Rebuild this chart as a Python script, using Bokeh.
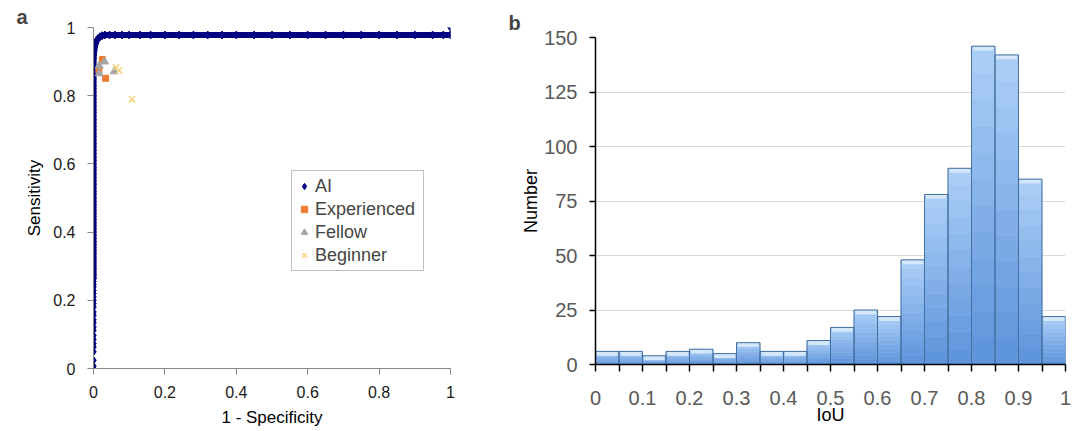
from bokeh.plotting import figure
from bokeh.layouts import row, column
from bokeh.models import FixedTicker
from bokeh.embed import file_html
from bokeh.resources import INLINE

FONT = "Liberation Sans"

# ---------------- Panel a data (ROC) ----------------
# AI operating points: vertical part (1 - specificity = 0)
ai_vertical_tpr = [0.0, 0.007, 0.024, 0.049, 0.063, 0.073, 0.085, 0.097, 0.112, 0.122,
                   0.134, 0.143, 0.156, 0.166, 0.18, 0.19, 0.2, 0.21, 0.22, 0.229,
                   0.239, 0.247, 0.255, 0.265, 0.275, 0.283, 0.292, 0.30, 0.31, 0.318,
                   0.327, 0.336, 0.345, 0.355, 0.364, 0.372, 0.381, 0.39, 0.40, 0.41,
                   0.418, 0.427, 0.436, 0.446, 0.455, 0.464, 0.473, 0.482, 0.49, 0.50,
                   0.51, 0.52, 0.53, 0.54, 0.55, 0.56, 0.57, 0.58, 0.59, 0.60,
                   0.61, 0.62, 0.63, 0.64, 0.65, 0.66, 0.67, 0.68, 0.69, 0.70,
                   0.71, 0.72, 0.73, 0.74, 0.75, 0.76, 0.77, 0.78, 0.79, 0.80,
                   0.81, 0.82, 0.83, 0.84, 0.85, 0.86, 0.87, 0.88, 0.89, 0.90]
ai_vertical_fpr = 0.0
# knee of the curve
ai_knee_fpr = [0.0005, 0.001, 0.002, 0.004, 0.006, 0.009, 0.013, 0.018, 0.024, 0.032]
ai_knee_tpr = [0.91, 0.92, 0.932, 0.944, 0.953, 0.961, 0.968, 0.973, 0.976, 0.978]
# plateau (sensitivity = 0.978)
ai_plateau_fpr = [0.045, 0.06, 0.08, 0.10, 0.13, 0.16, 0.2, 0.24, 0.28, 0.32, 0.36, 0.4,
                  0.45, 0.5, 0.55, 0.6, 0.65, 0.7, 0.75, 0.8, 0.85, 0.9, 0.95, 0.98, 1.0]
ai_plateau_tpr = 0.978
ai_end_fpr = [1.0]
ai_end_tpr = [1.0]

exp_fpr = [0.025, 0.015, 0.034]
exp_tpr = [0.906, 0.875, 0.851]
fel_fpr = [0.031, 0.016, 0.016, 0.058]
fel_tpr = [0.900, 0.888, 0.865, 0.871]
beg_fpr = [0.063, 0.072, 0.108]
beg_tpr = [0.883, 0.874, 0.789]

a_ticks = [0.0, 0.2, 0.4, 0.6, 0.8, 1.0]
a_tick_labels = ["0", "0.2", "0.4", "0.6", "0.8", "1"]

# ---------------- Panel b data (IoU histogram) ----------------
iou_bin_left = [0.0, 0.05, 0.1, 0.15, 0.2, 0.25, 0.3, 0.35, 0.4, 0.45,
                0.5, 0.55, 0.6, 0.65, 0.7, 0.75, 0.8, 0.85, 0.9, 0.95]
iou_bin_width = 0.05
iou_counts = [6, 6, 4, 6, 7, 5, 10, 6, 6, 11, 17, 25, 22, 48, 78, 90, 146, 142, 85, 22]

b_x_ticks = [0.0, 0.1, 0.2, 0.3, 0.4, 0.5, 0.6, 0.7, 0.8, 0.9, 1.0]
b_x_tick_labels = ["0", "0.1", "0.2", "0.3", "0.4", "0.5", "0.6", "0.7", "0.8", "0.9", "1"]
b_x_minor = [0.05, 0.15, 0.25, 0.35, 0.45, 0.55, 0.65, 0.75, 0.85, 0.95]
b_y_ticks = [0, 25, 50, 75, 100, 125, 150]

H = 431

# ================= Panel a =================
pa = figure(width=500, height=H, x_range=(0, 1), y_range=(0, 1),
            output_backend="svg", toolbar_location=None,
            min_border_left=93, min_border_right=50, min_border_top=27, min_border_bottom=63)
pa.outline_line_color = None
pa.grid.visible = False

pa.title.text = "a"
pa.title.align = "left"
pa.title.offset = -77
pa.title.standoff = 0
pa.title.text_font = FONT
pa.title.text_font_size = "20px"
pa.title.text_font_style = "bold"

ai_fpr = [ai_vertical_fpr] * len(ai_vertical_tpr) + ai_knee_fpr + ai_plateau_fpr + ai_end_fpr
ai_tpr = ai_vertical_tpr + ai_knee_tpr + [ai_plateau_tpr] * len(ai_plateau_fpr) + ai_end_tpr

line_x = [x for x, y in zip(ai_fpr, ai_tpr) if 0.26 <= y <= 0.98]
line_y = [y for y in ai_tpr if 0.26 <= y <= 0.98]
pa.line(line_x, line_y, line_color="#000080", line_width=6, line_join="round", line_cap="round")
pa.scatter(ai_fpr, ai_tpr, marker="diamond", size=8, color="#000080", legend_label="AI")
pa.scatter(exp_fpr, exp_tpr, marker="square", size=6, color="#ED7D31", legend_label="Experienced")
pa.scatter(fel_fpr, fel_tpr, marker="triangle", size=8, color="#A5A5A5", legend_label="Fellow")
pa.scatter(beg_fpr, beg_tpr, marker="x", size=9, line_color="#F5D67A", line_width=1.5,
           legend_label="Beginner")

for ax in (pa.xaxis[0], pa.yaxis[0]):
    ax.ticker = FixedTicker(ticks=a_ticks)
    ax.major_label_overrides = dict(zip(a_ticks, a_tick_labels))
    ax.axis_line_color = "#868686"
    ax.major_tick_line_color = "#868686"
    ax.major_tick_in = 0
    ax.major_tick_out = 6
    ax.minor_tick_line_color = None
    ax.major_label_text_font = FONT
    ax.major_label_text_font_size = "16px"
    ax.major_label_text_color = "#1a1a1a"
    ax.axis_label_text_font = FONT
    ax.axis_label_text_font_size = "17px"
    ax.axis_label_text_font_style = "normal"
    ax.axis_label_text_color = "#000000"
pa.xaxis.axis_label = "1 - Specificity"
pa.yaxis.axis_label = "Sensitivity"
pa.xaxis.major_label_standoff = 11
pa.xaxis.axis_label_standoff = 7
pa.yaxis.major_label_standoff = 12
pa.yaxis.axis_label_standoff = 6

lg = pa.legend[0]
lg.location = (198, 97)
lg.label_text_font = FONT
lg.label_text_font_size = "18px"
lg.label_height = 22
lg.glyph_height = 22
lg.glyph_width = 16
lg.label_width = 104
lg.label_standoff = 3
lg.spacing = 1
lg.padding = 4
lg.margin = 0
lg.border_line_color = "#808080"
lg.border_line_width = 1
lg.background_fill_alpha = 1

# ================= Panel b =================
pb = figure(width=577, height=H, x_range=(0, 1), y_range=(0, 150),
            output_backend="svg", toolbar_location=None,
            min_border_left=95, min_border_right=12, min_border_top=37, min_border_bottom=67)
pb.outline_line_color = None
pb.xgrid.visible = False
pb.ygrid.ticker = FixedTicker(ticks=b_y_ticks)
pb.ygrid.grid_line_color = "#d9d9d9"
pb.ygrid.grid_line_width = 1

pb.title.text = "b"
pb.title.align = "left"
pb.title.offset = -87
pb.title.standoff = 8
pb.title.text_font = FONT
pb.title.text_font_size = "20px"
pb.title.text_font_style = "bold"

# gradient-filled bars (stacked bands from dark bottom to light top)
n_seg = 12
c_bot = (0x5E, 0x95, 0xDC)
c_top = (0xAA, 0xCD, 0xF6)
seg_l, seg_r, seg_b, seg_t, seg_c = [], [], [], [], []
for left, cnt in zip(iou_bin_left, iou_counts):
    for k in range(n_seg):
        f = k / (n_seg - 1)
        col = "#%02x%02x%02x" % tuple(int(round(c_bot[i] + (c_top[i] - c_bot[i]) * f)) for i in range(3))
        seg_l.append(left)
        seg_r.append(left + iou_bin_width)
        seg_b.append(cnt * k / n_seg)
        seg_t.append(cnt * (k + 1) / n_seg)
        seg_c.append(col)
pb.quad(left=seg_l, right=seg_r, bottom=seg_b, top=seg_t, fill_color=seg_c, line_color=seg_c,
        line_width=0.6)
# light bevel on top of each bar
cap_h = 2.0
pb.quad(left=[l + 0.003 for l in iou_bin_left], right=[l + iou_bin_width - 0.003 for l in iou_bin_left],
        bottom=[max(c - cap_h, 0) for c in iou_counts], top=iou_counts,
        fill_color="#d4e7fb", line_color=None)
pb.quad(left=iou_bin_left, right=[l + iou_bin_width for l in iou_bin_left],
        bottom=0, top=iou_counts, fill_color=None, line_color="#44709f", line_width=1)

pb.xaxis.ticker = FixedTicker(ticks=b_x_ticks, minor_ticks=b_x_minor)
pb.xaxis.major_label_overrides = dict(zip(b_x_ticks, b_x_tick_labels))
pb.yaxis.ticker = FixedTicker(ticks=b_y_ticks)
for ax in (pb.xaxis[0], pb.yaxis[0]):
    ax.axis_line_color = "#000000"
    ax.axis_line_width = 1.5
    ax.major_tick_line_color = "#000000"
    ax.major_tick_line_width = 1.5
    ax.major_tick_in = 0
    ax.major_label_text_font = FONT
    ax.major_label_text_font_size = "20px"
    ax.major_label_text_color = "#595959"
    ax.axis_label_text_font = FONT
    ax.axis_label_text_font_size = "18px"
    ax.axis_label_text_font_style = "normal"
    ax.axis_label_text_color = "#000000"
pb.xaxis.major_tick_out = 7
pb.xaxis.minor_tick_out = 7
pb.xaxis.minor_tick_in = 0
pb.xaxis.minor_tick_line_color = "#000000"
pb.xaxis.minor_tick_line_width = 1.5
pb.yaxis.major_tick_out = 6
pb.yaxis.minor_tick_line_color = None
pb.xaxis.axis_label = "IoU"
pb.yaxis.axis_label = "Number"
pb.xaxis.major_label_standoff = 19
pb.xaxis.axis_label_standoff = -3
pb.yaxis.major_label_standoff = 12
pb.yaxis.axis_label_standoff = 0

layout = row(column(pa), column(pb))
open("out.html", "w").write(file_html(layout, INLINE))
